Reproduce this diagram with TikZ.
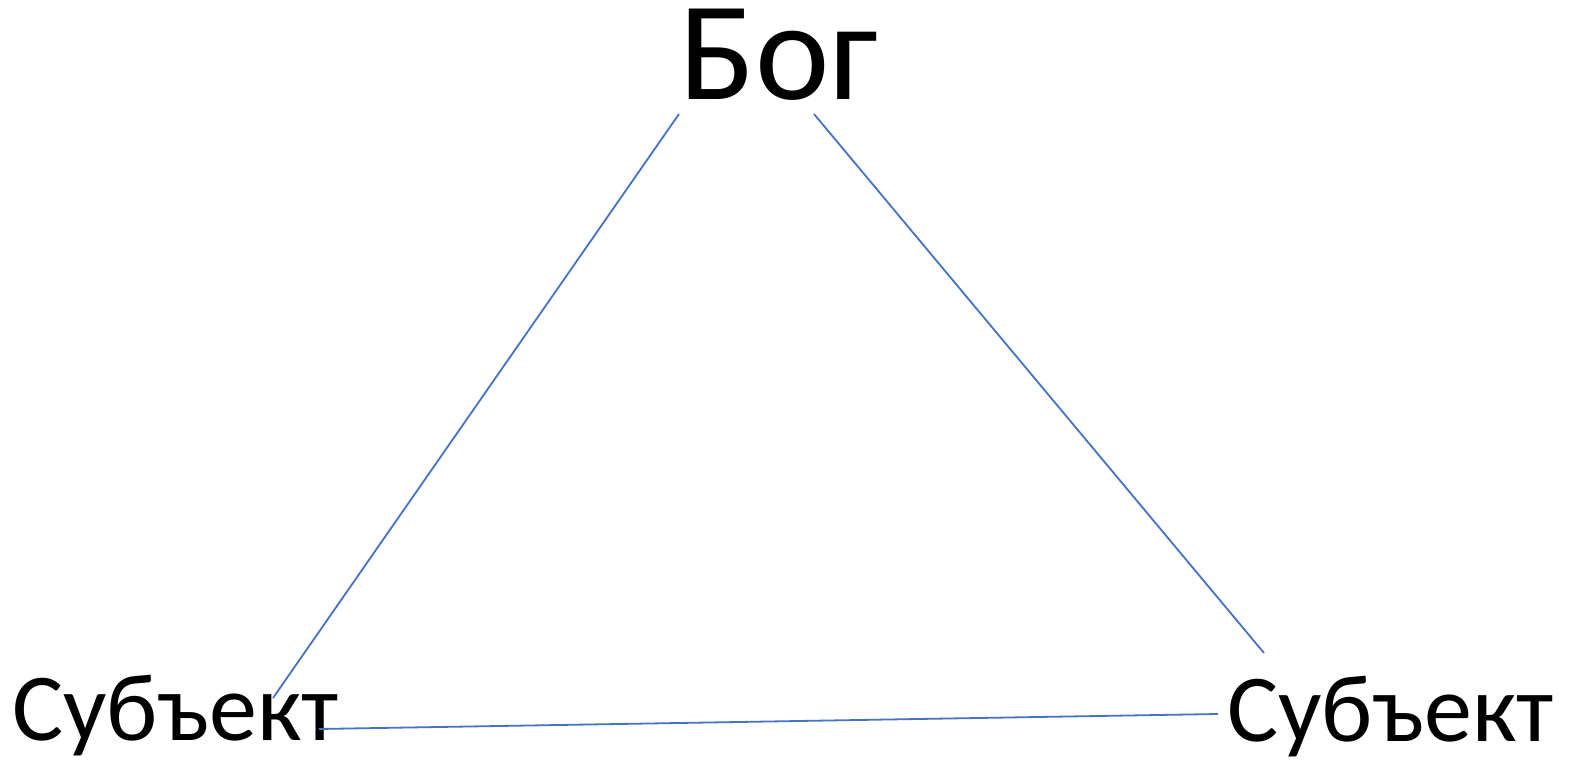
\documentclass[tikz,border=0pt]{standalone}
\usepackage{fontspec}
\setmainfont{Carlito}
\usetikzlibrary{positioning,calc}
\definecolor{linkblue}{RGB}{68,114,196}
\tikzset{
  godtext/.style={inner sep=0pt, anchor=base west, font=\fontsize{141}{150}\selectfont},
  subjtext/.style={inner sep=0pt, anchor=base west, font=\fontsize{96}{100}\selectfont},
  link/.style={draw=linkblue, line width=1.8pt},
}

\begin{document}
\begin{tikzpicture}[x=1pt, y=-1pt]
  \useasboundingbox (0,0) rectangle (1575,762);
  % Labels
  \node[godtext] (god) at (679,100) {Бог};
  \node[subjtext] (subjL) at (12,740) {Субъект};
  \node[subjtext] (subjR) at (1227,741) {Субъект};

  % Line ends
  \coordinate (gL) at (679,114);
  \coordinate (gR) at (814,114);
  \coordinate (sLt) at (273,698);
  \coordinate (sLr) at (319,729);
  \coordinate (sRt) at (1264,653);
  \coordinate (sRl) at (1218,714);

  % Lines
  \draw[link] (gL) -- (sLt);
  \draw[link] (gR) -- (sRt);
  \draw[link] (sLr) -- (sRl);
\end{tikzpicture}
\end{document}
